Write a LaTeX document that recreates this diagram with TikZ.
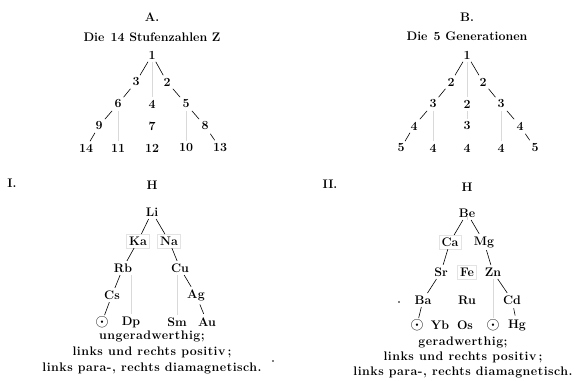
\documentclass[tikz,border=0pt]{standalone}
\usepackage{fontspec}
\setmainfont{Latin Modern Roman}
\newfontfamily\spfont[LetterSpace=4]{Latin Modern Roman}
\begin{document}
\begin{tikzpicture}[x=1pt,y=-1pt,
  every node/.style={font=\fontsize{12.4}{14}\selectfont\bfseries, inner sep=2.5pt},
  tl/.style={line width=0.6pt, shorten <=1.2pt, shorten >=1.2pt},
  fl/.style={draw=gray!30, line width=0.5pt},
  fb/.style={draw=gray!22, line width=0.4pt},
  txt/.style={font=\fontsize{12.4}{14}\selectfont\spfont\bfseries},
  sun/.style={font=\fontsize{16}{16}\selectfont, inner sep=1pt},
  spk/.style={circle, fill=black, inner sep=0pt, minimum size=1.6pt}]
\useasboundingbox (0,0) rectangle (577,380);
% ---------- Panel A ----------
\node (At) at (152,17) {A.};
\node (As) at (152,37) {Die\enspace14 Stufenzahlen Z};
\node (a1) at (152,55) {1};
\node (a3) at (136,82) {3};
\node (a2) at (167,82) {2};
\node (a6) at (118,104) {6};
\node (a4) at (152,104) {4};
\node (a5) at (186,104) {5};
\node (a9) at (99,126) {9};
\node (a7) at (152,126) {7};
\node (a8) at (205,126) {8};
\node (a14) at (86,148) {14};
\node (a11) at (118,148) {11};
\node (a12) at (152,148) {12};
\node (a10) at (186,148) {10};
\node (a13) at (220,148) {13};
\draw[tl] (a1)--(a3) (a1)--(a2) (a3)--(a6) (a2)--(a5) (a6)--(a9) (a5)--(a8) (a9)--(a14) (a8)--(a13);
\draw[fl] (a1)--(a4) (a6)--(a11) (a5)--(a10);
% ---------- Panel B ----------
\node (Bt) at (467,17) {B.};
\node (Bs) at (467,36) {Die\enspace5 Generationen};
\node (b1) at (467,55) {1};
\node (b2l) at (451,82) {2};
\node (b2r) at (483,82) {2};
\node (b3l) at (433,104) {3};
\node (b3c) at (467,104) {2};
\node (b3r) at (501,104) {3};
\node (b4l) at (414,126) {4};
\node (b4c) at (467,126) {3};
\node (b4r) at (520,126) {4};
\node (b5a) at (401,148) {5};
\node (b5b) at (433,148) {4};
\node (b5c) at (467,148) {4};
\node (b5d) at (501,148) {4};
\node (b5e) at (535,148) {5};
\draw[tl] (b1)--(b2l) (b1)--(b2r) (b2l)--(b3l) (b2r)--(b3r) (b3l)--(b4l) (b3r)--(b4r) (b4l)--(b5a) (b4r)--(b5e);
\draw[fl] (b1)--(b3c) (b3c)--(b4c) (b3l)--(b5b) (b3r)--(b5d);
% ---------- Panel I ----------
\node (It) at (12,183) {I.};
\node (IH) at (152,185) {H};
\node (Li) at (152,212) {Li};
\node[fb] (Ka) at (138,241) {Ka};
\node[fb] (Na) at (169,241) {Na};
\node (Rb) at (123,268) {Rb};
\node (Cu) at (180,268) {Cu};
\node (Cs) at (112,295) {Cs};
\node (Ag) at (196,295) {Ag};
\node[sun] (Io) at (102,322) {$\odot$};
\node (Dp) at (131,322) {Dp};
\node (Sm) at (177,322) {Sm};
\node (Au) at (207,322) {Au};
\draw[tl] (Li)--(Ka) (Li)--(Na) (Ka)--(Rb) (Na)--(Cu) (Rb)--(Cs) (Cu)--(Ag) (Cs)--(Io) (Ag)--(Au);
\draw[fl] (Dp.north |- Rb.south) -- (Dp.north) (Sm.north |- Cu.south) -- (Sm.north);
\node[txt] (I1) at (152,336) {ungeradwerthig;};
\node[txt] (I2) at (152,352) {links und rechts positiv\,;};
\node[txt] (I3) at (152,368) {links para-, rechts diamagnetisch.};
\node[spk] (Isp) at (273,361) {};
% ---------- Panel II ----------
\node (IIt) at (330,184) {II.};
\node (IIH) at (467,187) {H};
\node (Be) at (467,213) {Be};
\node[fb] (Ca) at (450,242) {Ca};
\node (Mg) at (484,242) {Mg};
\node (Sr) at (441,272) {Sr};
\node[fb] (Fe) at (467,272) {Fe};
\node (Zn) at (493,272) {Zn};
\node (Ba) at (423,300) {Ba};
\node (Ru) at (467,300) {Ru};
\node (Cd) at (512,300) {Cd};
\node[sun] (IIo1) at (417,325) {$\odot$};
\node (Yb) at (440,325) {Yb};
\node (Os) at (465,325) {Os};
\node[sun] (IIo2) at (493,325) {$\odot$};
\node (Hg) at (517,325) {Hg};
\draw[tl] (Be)--(Ca) (Be)--(Mg) (Ca)--(Sr) (Mg)--(Zn) (Sr)--(Ba) (Zn)--(Cd) (Ba)--(IIo1) (Cd)--(Hg);
\draw[fl] (Zn)--(IIo2);
\coordinate (Betick) at ([yshift=5pt]Be.south);
\draw[fl] (Be.south) -- (Betick);
\node[spk] (IIsp) at (399,302) {};
\node[txt] (II1) at (463,342) {geradwerthig;};
\node[txt] (II2) at (463,357) {links und rechts positiv\,;};
\node[txt] (II3) at (463,372) {links para-, rechts diamagnetisch.};
\end{tikzpicture}
\end{document}
